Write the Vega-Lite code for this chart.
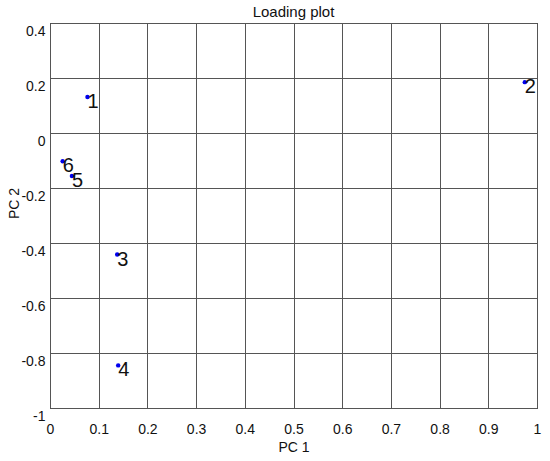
{
  "$schema": "https://vega.github.io/schema/vega-lite/v6.json",
  "autosize": "none",
  "width": 487,
  "height": 385,
  "padding": {"left": 50, "top": 23, "right": 13, "bottom": 53},
  "background": "white",
  "title": {"text": "Loading plot", "font": "Liberation Sans", "fontSize": 15, "fontWeight": "normal", "color": "#111", "offset": 3},
  "config": {
    "view": {"stroke": "black", "strokeWidth": 1},
    "axis": {"labelFont": "Liberation Sans", "titleFont": "Liberation Sans", "labelFontSize": 14, "titleFontSize": 14, "titleFontWeight": "normal", "labelColor": "#111", "titleColor": "#111", "gridColor": "#555", "gridOpacity": 1, "gridWidth": 1, "domain": false, "ticks": false}
  },
  "data": {"values": [
    {"id": "1", "pc1": 0.077, "pc2": 0.131},
    {"id": "2", "pc1": 0.975, "pc2": 0.185},
    {"id": "3", "pc1": 0.138, "pc2": -0.442},
    {"id": "4", "pc1": 0.140, "pc2": -0.845},
    {"id": "5", "pc1": 0.045, "pc2": -0.156},
    {"id": "6", "pc1": 0.026, "pc2": -0.103}
  ]},
  "encoding": {
    "x": {"field": "pc1", "type": "quantitative", "title": "PC 1",
      "scale": {"domain": [0, 1], "nice": false, "zero": false},
      "axis": {"values": [0,0.1,0.2,0.3,0.4,0.5,0.6,0.7,0.8,0.9,1], "labelExpr": "'' + datum.value", "labelPadding": 14, "titlePadding": 4, "labelFlush": false, "labelOverlap": false}},
    "y": {"field": "pc2", "type": "quantitative", "title": "PC 2",
      "scale": {"domain": [-1, 0.4], "nice": false, "zero": false},
      "axis": {"values": [-1,-0.8,-0.6,-0.4,-0.2,0,0.2,0.4], "labelExpr": "'' + datum.value", "labelPadding": 5, "labelOffset": 8, "labelFlush": false, "labelOverlap": false, "titleAngle": -90, "titleX": -36, "titleY": 180, "titleAlign": "center", "titleBaseline": "middle"}}
  },
  "layer": [
    {"mark": {"type": "point", "filled": true, "color": "#0000ee", "size": 20, "opacity": 1}},
    {"mark": {"type": "text", "align": "left", "baseline": "middle", "dx": 0, "dy": 5, "fontSize": 20, "font": "Liberation Sans", "color": "#111"},
     "encoding": {"text": {"field": "id"}}}
  ]
}
